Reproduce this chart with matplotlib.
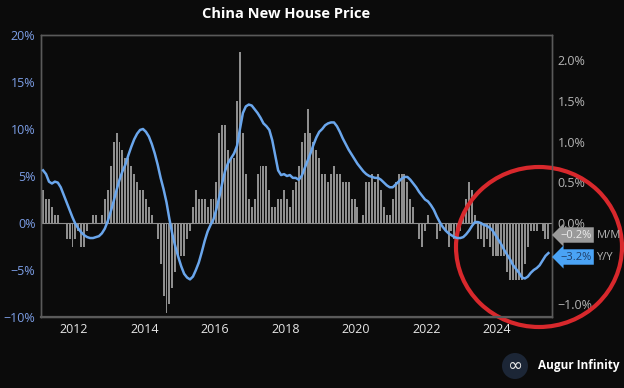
import numpy as np
import pandas as pd
import matplotlib
matplotlib.use("Agg")
import matplotlib.pyplot as plt
from matplotlib.patches import Ellipse, Circle

# monthly data, Feb 2011 .. Jun 2025
start_month = "2011-02"
n_months = 173

# M/M change (%), right axis
mom = [
    0.4, 0.3, 0.3, 0.2, 0.1, 0.1, 0.0, 0.0, -0.2, -0.2, -0.3,           # 2011 Feb-Dec
    -0.2, -0.1, -0.3, -0.3, -0.1, 0.0, 0.1, 0.1, 0.0, 0.1, 0.3, 0.4,    # 2012
    0.7, 1.0, 1.1, 1.0, 0.9, 0.8, 0.8, 0.7, 0.6, 0.5, 0.4, 0.4,         # 2013
    0.3, 0.2, 0.1, 0.0, -0.2, -0.5, -0.9, -1.1, -1.0, -0.8, -0.6, -0.4, # 2014
    -0.4, -0.4, -0.2, -0.1, 0.2, 0.4, 0.3, 0.3, 0.3, 0.2, 0.3, 0.3,     # 2015
    0.5, 1.1, 1.2, 1.2, 0.9, 0.8, 0.8, 1.5, 2.1, 1.1, 0.6, 0.3,         # 2016
    0.2, 0.3, 0.6, 0.7, 0.7, 0.7, 0.4, 0.2, 0.2, 0.3, 0.3, 0.4,         # 2017
    0.3, 0.2, 0.4, 0.5, 0.7, 1.0, 1.1, 1.4, 1.1, 1.0, 0.9, 0.8,         # 2018
    0.6, 0.6, 0.5, 0.6, 0.7, 0.6, 0.6, 0.5, 0.5, 0.5, 0.3, 0.3,         # 2019
    0.2, 0.0, 0.1, 0.5, 0.5, 0.6, 0.5, 0.6, 0.4, 0.2, 0.1, 0.1,         # 2020
    0.3, 0.5, 0.6, 0.6, 0.6, 0.5, 0.3, 0.2, 0.0, -0.2, -0.3, -0.1,      # 2021
    0.1, 0.0, 0.0, -0.2, -0.1, 0.0, -0.1, -0.3, -0.1, -0.2, -0.1, -0.1, # 2022
    0.1, 0.3, 0.5, 0.4, 0.1, -0.2, -0.2, -0.3, -0.2, -0.3, -0.4, -0.4,  # 2023
    -0.4, -0.4, -0.4, -0.6, -0.7, -0.7, -0.7, -0.7, -0.7, -0.5, -0.3, -0.1, # 2024
    -0.1, -0.1, 0.0, -0.1, -0.2, -0.2,                                   # 2025 Jan-Jun
]

# Y/Y change (%), left axis
yoy = [
    5.6, 5.2, 4.4, 4.2, 4.4, 4.3, 3.8, 3.0, 2.2, 1.4, 0.6,
    -0.1, -0.6, -1.0, -1.3, -1.5, -1.6, -1.6, -1.5, -1.4, -1.1, -0.6, 0.2,
    1.2, 2.3, 3.5, 4.6, 5.5, 6.2, 7.2, 8.1, 8.9, 9.5, 9.9, 10.0,
    9.7, 9.2, 8.4, 7.4, 6.2, 4.8, 3.6, 2.2, 0.4, -1.2, -2.5, -3.6,
    -4.6, -5.4, -5.8, -6.0, -5.7, -5.0, -4.2, -3.1, -1.9, -0.9, -0.2, 0.4,
    1.5, 2.8, 4.3, 5.6, 6.4, 6.9, 7.4, 8.2, 10.0, 11.7, 12.4, 12.6,
    12.5, 12.1, 11.7, 11.2, 10.6, 10.3, 9.9, 8.8, 7.2, 5.6, 5.1, 5.2,
    5.0, 5.1, 4.8, 4.8, 4.6, 5.0, 5.8, 6.6, 7.4, 8.3, 9.1, 9.7,
    10.0, 10.4, 10.6, 10.7, 10.7, 10.3, 9.7, 9.0, 8.4, 7.8, 7.3, 6.8,
    6.3, 5.9, 5.5, 5.2, 5.0, 4.9, 4.8, 4.8, 4.6, 4.3, 4.0, 3.8,
    3.8, 4.1, 4.4, 4.7, 4.9, 4.9, 4.6, 4.2, 3.8, 3.3, 2.9, 2.5,
    2.3, 1.9, 1.4, 0.7, 0.1, -0.4, -0.8, -1.1, -1.3, -1.5, -1.6, -1.6,
    -1.5, -1.2, -0.8, -0.3, 0.1, 0.1, 0.0, -0.2, -0.3, -0.5, -0.8, -1.3,
    -1.8, -2.3, -2.9, -3.4, -3.9, -4.5, -4.9, -5.3, -5.8, -5.9, -5.7, -5.3,
    -5.0, -4.8, -4.5, -4.0, -3.5, -3.2,
]

year_ticks = [2012, 2014, 2016, 2018, 2020, 2022, 2024]
left_ticks = [-10, -5, 0, 5, 10, 15, 20]
right_ticks = [-1.0, 0.0, 0.5, 1.0, 1.5, 2.0]

dates = pd.date_range(start_month, periods=n_months, freq="MS")
t = dates.year + (dates.month - 0.5) / 12.0

bg = "#0b0b0b"
plt.rcParams["font.family"] = ["Open Sans", "DejaVu Sans"]


def pct(v, fmt="{:.1f}%"):
    return fmt.format(v).replace("-", "\u2212")


fig = plt.figure(figsize=(6.24, 3.88), dpi=100, facecolor=bg)
ax = fig.add_axes([41 / 624, 1 - 317 / 388, 511 / 624, 282 / 388])
ax.set_facecolor(bg)
ax2 = ax.twinx()

ax2.bar(t, mom, width=0.056, color="#8f8f8f", zorder=1)
ax.plot(t, yoy, color="#6aa6ec", lw=1.8, zorder=3)
ax.set_zorder(ax2.get_zorder() + 1)
ax.patch.set_visible(False)
ax2.patch.set_facecolor(bg)

# zero line across the plot
ax2.axhline(0, color="#8f8f8f", lw=0.8, zorder=0)

ax.set_xlim(2011.065, 2025.56)
ax.set_ylim(-10, 20)
ax2.set_ylim(-1.155, 2.31)

ax.set_xticks(year_ticks)
ax.set_xticklabels([str(y) for y in year_ticks], color="#e6e6e6", fontsize=9)
ax.set_yticks(left_ticks)
ax.set_yticklabels([pct(v, "{}%") for v in left_ticks], color="#7c9ee6", fontsize=9)
ax2.set_yticks(right_ticks)
ax2.set_yticklabels([pct(v) for v in right_ticks], color="#b4b4b4", fontsize=9)
ax.tick_params(axis="both", length=0, pad=4)
ax2.tick_params(axis="y", length=0, pad=4)

for a in (ax, ax2):
    for s in a.spines.values():
        s.set_color("#5a5a5a")
        s.set_linewidth(1.0)
ax.spines["bottom"].set_linewidth(1.6)

fig.text(286 / 624, 1 - 14 / 388, "China New House Price", color="white",
         fontsize=10.5, fontweight="bold", ha="center", va="center")

# end-value labels (placed in pixel rows of the reference)
mm_y = (317 - 235) / 282
yy_y = (317 - 257) / 282
ax.annotate(pct(mom[-1]), xy=(1.0, mm_y), xycoords="axes fraction",
            xytext=(6, 0), textcoords="offset points", ha="left", va="center",
            fontsize=8, color="#ececec",
            bbox=dict(boxstyle="larrow,pad=0.2", fc="#9a9a9a", ec="none"))
ax.annotate("M/M", xy=(1.0, mm_y), xycoords="axes fraction",
            xytext=(32, 0), textcoords="offset points", ha="left", va="center",
            fontsize=8, color="#b4b4b4")
ax.annotate(pct(yoy[-1]), xy=(1.0, yy_y), xycoords="axes fraction",
            xytext=(6, 0), textcoords="offset points", ha="left", va="center",
            fontsize=8, color="#1f3f6a",
            bbox=dict(boxstyle="larrow,pad=0.2", fc="#4aa3f5", ec="none"))
ax.annotate("Y/Y", xy=(1.0, yy_y), xycoords="axes fraction",
            xytext=(32, 0), textcoords="offset points", ha="left", va="center",
            fontsize=8, color="#b4b4b4")

# overlay in pixel coords for highlight circle and logo
ov = fig.add_axes([0, 0, 1, 1])
ov.set_xlim(0, 624)
ov.set_ylim(388, 0)
ov.axis("off")
ov.patch.set_visible(False)
ov.add_patch(Ellipse((539, 247), 166, 160, fill=False, ec="#d8282c", lw=3.0))
ov.add_patch(Circle((515, 366), 13, fc="#1c2636", ec="none"))
ov.text(515, 366, "\u221e", color="#e8e8e8", fontsize=13, ha="center", va="center",
        family="DejaVu Sans")
ov.text(538, 366, "Augur Infinity", color="white", fontsize=8.5, fontweight="bold",
        ha="left", va="center")

fig.savefig("out.png", dpi=100, facecolor=bg)
